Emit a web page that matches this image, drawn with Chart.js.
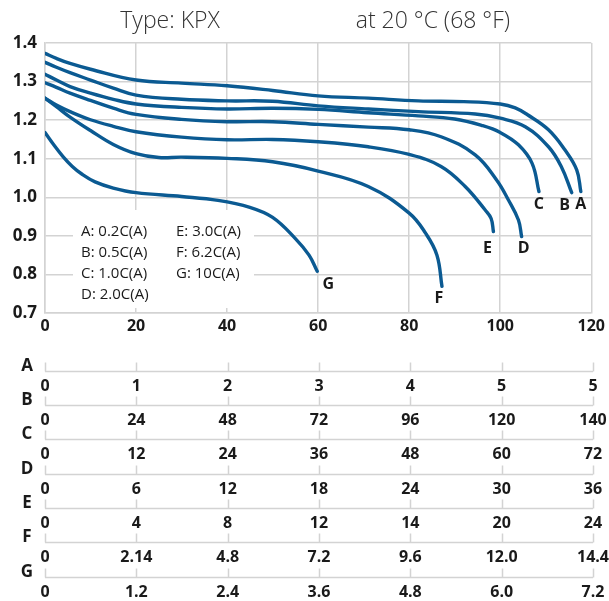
<!DOCTYPE html>
<html>
<head>
<meta charset="utf-8">
<script src="https://cdn.jsdelivr.net/npm/chart.js@4/dist/chart.umd.min.js"></script>
<style>
  html, body { margin: 0; padding: 0; background: #fff; }
  canvas { display: block; }
</style>
</head>
<body>
<canvas id="curves" width="609" height="345"></canvas>
<canvas id="table" width="609" height="256"></canvas>
<script>
// Discharge time in minutes (x) against cell voltage in V (y), one curve per rate.
const seriesNames = ['A', 'B', 'C', 'D', 'E', 'F', 'G'];
const seriesRates = ['0.2C(A)', '0.5C(A)', '1.0C(A)', '2.0C(A)', '3.0C(A)', '6.2C(A)', '10C(A)'];

const timeA = [0, 2.5, 5.5, 10, 20, 30, 40, 50, 60, 71, 82, 92, 100, 103.3, 106, 110.6, 114.2, 116.8, 117.7];
const voltA = [1.373, 1.360, 1.347, 1.332, 1.304, 1.296, 1.289, 1.277, 1.263, 1.257, 1.250, 1.248, 1.242, 1.232, 1.214, 1.175, 1.123, 1.071, 1.015];

const timeB = [0, 2.5, 5.5, 10, 15, 20, 30, 40, 50, 60, 71, 82, 94.5, 100, 105.5, 110.6, 113.4, 115.7];
const voltB = [1.350, 1.337, 1.323, 1.304, 1.283, 1.265, 1.254, 1.250, 1.249, 1.237, 1.229, 1.222, 1.216, 1.205, 1.183, 1.131, 1.080, 1.012];

const timeC = [0, 2.5, 5.5, 10, 15, 20, 30, 40, 50, 60, 71, 82, 90, 96, 100, 104, 107, 108.5];
const voltC = [1.319, 1.304, 1.287, 1.270, 1.254, 1.242, 1.233, 1.229, 1.231, 1.228, 1.219, 1.211, 1.203, 1.186, 1.168, 1.136, 1.088, 1.015];

const timeD = [0, 2.5, 5.5, 10, 15, 20, 30, 40, 50, 60, 71, 80, 87, 94.5, 99.2, 101.8, 104, 104.7];
const voltD = [1.297, 1.285, 1.270, 1.251, 1.231, 1.215, 1.202, 1.196, 1.196, 1.189, 1.182, 1.175, 1.157, 1.110, 1.045, 0.993, 0.941, 0.898];

const timeE = [0, 2.5, 5.5, 10, 15, 20, 30, 40, 50, 60, 71, 80, 87, 92.3, 96.7, 98, 98.5];
const voltE = [1.257, 1.239, 1.222, 1.201, 1.184, 1.170, 1.156, 1.149, 1.150, 1.144, 1.131, 1.111, 1.080, 1.028, 0.967, 0.945, 0.911];

const timeF = [0, 2.5, 5.5, 10, 15, 20, 25, 30, 40, 50, 60, 71, 80, 83.6, 86.1, 87.2];
const voltF = [1.257, 1.235, 1.208, 1.173, 1.137, 1.113, 1.103, 1.104, 1.101, 1.092, 1.068, 1.028, 0.959, 0.907, 0.850, 0.769];

const timeG = [0, 2, 4, 6, 8, 11, 15, 20, 30, 38, 45, 50, 55, 58, 59.8];
const voltG = [1.168, 1.135, 1.105, 1.080, 1.061, 1.040, 1.024, 1.012, 1.002, 0.992, 0.974, 0.948, 0.893, 0.850, 0.808];

// Time scale readings per rate, one row per curve, at the main axis gridlines.
const gridMinutes = [0, 20, 40, 60, 80, 100, 120];
const rowTicksA = ['0', '1', '2', '3', '4', '5', '5'];
const rowTicksB = ['0', '24', '48', '72', '96', '120', '140'];
const rowTicksC = ['0', '12', '24', '36', '48', '60', '72'];
const rowTicksD = ['0', '6', '12', '18', '24', '30', '36'];
const rowTicksE = ['0', '4', '8', '12', '14', '20', '24'];
const rowTicksF = ['0', '2.14', '4.8', '7.2', '9.6', '12.0', '14.4'];
const rowTicksG = ['0', '1.2', '2.4', '3.6', '4.8', '6.0', '7.2'];

const titleLeft = 'Type: KPX';
const titleRight = 'at 20 °C (68 °F)';

const times = [timeA, timeB, timeC, timeD, timeE, timeF, timeG];
const volts = [voltA, voltB, voltC, voltD, voltE, voltF, voltG];
const rowTicks = [rowTicksA, rowTicksB, rowTicksC, rowTicksD, rowTicksE, rowTicksF, rowTicksG];

const FAMILY = "'Open Sans', 'Noto Sans', sans-serif";
const CURVE = '#0b5a92';
const GRID = '#d3d3d3';
const INK = '#1a1a1a';

// Pixel nudges of each end letter relative to the curve's last point.
const endLabelShift = [[0, 13], [-7, 13], [0, 13], [2, 12], [-6, 17], [-3, 12], [11, 13]];

const titlePlugin = {
  id: 'titles',
  afterDraw(chart) {
    const ctx = chart.ctx;
    const area = chart.chartArea;
    const w = area.right - area.left;
    ctx.save();
    ctx.font = '300 23px ' + FAMILY;
    ctx.fillStyle = '#333';
    ctx.textAlign = 'center';
    ctx.textBaseline = 'middle';
    ctx.fillText(titleLeft, area.left + w * 0.229, 21);
    ctx.fillText(titleRight, area.left + w * 0.71, 21);
    ctx.restore();
  }
};

const rateKeyPlugin = {
  id: 'rateKey',
  beforeDatasetsDraw(chart) {
    const ctx = chart.ctx;
    const area = chart.chartArea;
    const x0 = area.left + 28, y0 = area.top + 167;
    ctx.save();
    ctx.fillStyle = '#fff';
    ctx.fillRect(x0, y0, 181, 98);
    ctx.font = '15px ' + FAMILY;
    ctx.fillStyle = INK;
    ctx.textAlign = 'left';
    ctx.textBaseline = 'middle';
    seriesNames.forEach((name, i) => {
      const col = i < 4 ? 0 : 1;
      const row = i < 4 ? i : i - 4;
      ctx.fillText(name + ': ' + seriesRates[i], x0 + 8 + col * 95, y0 + 22 + row * 21);
    });
    ctx.restore();
  }
};

const endLabelPlugin = {
  id: 'endLabels',
  afterDatasetsDraw(chart) {
    const ctx = chart.ctx;
    ctx.save();
    ctx.font = 'bold 16px ' + FAMILY;
    ctx.fillStyle = INK;
    ctx.textAlign = 'center';
    ctx.textBaseline = 'middle';
    chart.data.datasets.forEach((ds, i) => {
      const pts = chart.getDatasetMeta(i).data;
      const last = pts[pts.length - 1];
      ctx.fillText(ds.label, last.x + endLabelShift[i][0], last.y + endLabelShift[i][1]);
    });
    ctx.restore();
  }
};

new Chart(document.getElementById('curves'), {
  type: 'line',
  data: {
    datasets: seriesNames.map((name, i) => ({
      label: name,
      data: times[i].map((t, k) => ({ x: t, y: volts[i][k] })),
      borderColor: CURVE,
      borderWidth: 3.4,
      pointRadius: 0,
      fill: false,
      tension: 0.4,
      borderCapStyle: 'round'
    }))
  },
  options: {
    responsive: false,
    animation: false,
    devicePixelRatio: 1,
    layout: { padding: { top: 43, right: 16, left: 0, bottom: 0 } },
    plugins: { legend: { display: false }, tooltip: { enabled: false }, title: { display: false } },
    scales: {
      x: {
        type: 'linear', min: 0, max: 120,
        afterFit(s) { s.height = 32; },
        ticks: { stepSize: 20, padding: 4, color: INK, font: { family: FAMILY, size: 16, weight: 'bold' } },
        grid: { color: GRID, lineWidth: 1.5, drawTicks: false },
        border: { color: GRID, width: 1.5 }
      },
      y: {
        type: 'linear', min: 0.7, max: 1.4,
        afterFit(s) { s.width = 45; },
        ticks: { stepSize: 0.1, padding: 8, color: INK, callback: v => v.toFixed(1),
                 font: { family: FAMILY, size: 17, weight: 'bold' } },
        grid: { color: GRID, lineWidth: 1.5, drawTicks: false },
        border: { color: GRID, width: 1.5 }
      }
    }
  },
  plugins: [titlePlugin, rateKeyPlugin, endLabelPlugin]
});

// Conversion rows: each rate gets a rule on the same minute scale with its own readings.
const rowsPlugin = {
  id: 'rateRows',
  afterDraw(chart) {
    const ctx = chart.ctx;
    const xs = chart.scales.x, ys = chart.scales.y;
    const x0 = xs.getPixelForValue(gridMinutes[0]);
    const x1 = xs.getPixelForValue(gridMinutes[gridMinutes.length - 1]);
    ctx.save();
    seriesNames.forEach((name, i) => {
      const y = Math.round(ys.getPixelForValue(i)) + 0.5;
      ctx.strokeStyle = GRID;
      ctx.lineWidth = 1.5;
      ctx.beginPath();
      ctx.moveTo(x0, y);
      ctx.lineTo(x1, y);
      gridMinutes.forEach(m => {
        const x = Math.round(xs.getPixelForValue(m)) + 0.5;
        ctx.moveTo(x, y);
        ctx.lineTo(x, y - 9);
      });
      ctx.stroke();

      ctx.fillStyle = INK;
      ctx.textBaseline = 'middle';
      ctx.font = 'bold 17px ' + FAMILY;
      ctx.textAlign = 'center';
      ctx.fillText(name, 27, y - 5);
      ctx.font = 'bold 16px ' + FAMILY;
      gridMinutes.forEach((m, k) => {
        ctx.fillText(rowTicks[i][k], xs.getPixelForValue(m), y + 15);
      });
    });
    ctx.restore();
  }
};

new Chart(document.getElementById('table'), {
  type: 'line',
  data: { datasets: [] },
  options: {
    responsive: false,
    animation: false,
    devicePixelRatio: 1,
    layout: { padding: { top: 0, right: 16, left: 45, bottom: 0 } },
    plugins: { legend: { display: false }, tooltip: { enabled: false } },
    scales: {
      x: { type: 'linear', min: 0, max: 120, display: false },
      y: { type: 'linear', reverse: true, min: -0.75, max: 6.71, display: false }
    }
  },
  plugins: [rowsPlugin]
});
</script>
</body>
</html>
